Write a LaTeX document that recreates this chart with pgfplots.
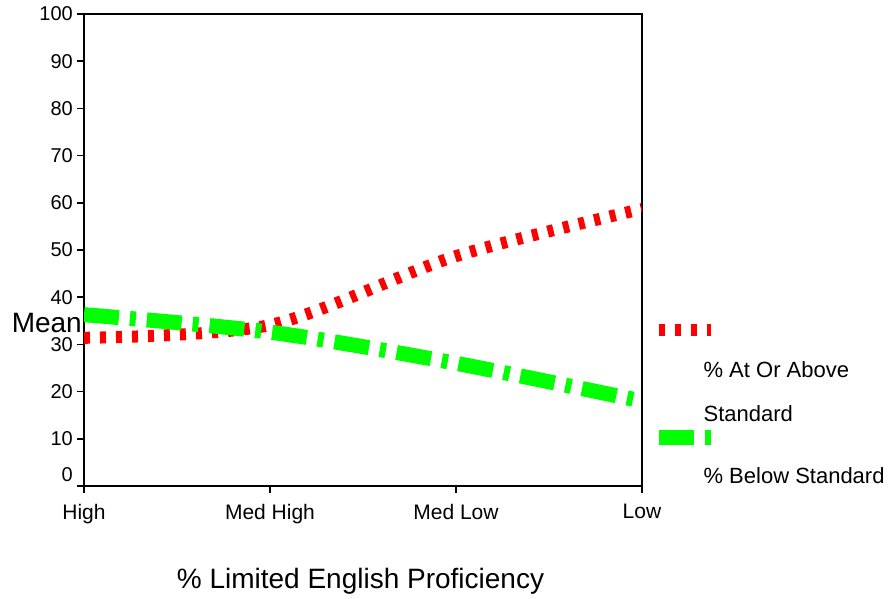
\documentclass[border=0pt]{standalone}
\usepackage{pgfplots}
\pgfplotsset{compat=1.18}
\usepackage{fontspec}
\setmainfont{Liberation Sans}
\definecolor{pred}{RGB}{255,0,0}
\definecolor{pgreen}{RGB}{0,255,0}
\pgfplotsset{
  redleg/.style={legend image code/.code={\draw[##1, overlay] (-45pt,47pt) -- (7pt,47pt);}},
  greenleg/.style={legend image code/.code={\draw[##1, overlay] (-45pt,46pt) -- (7pt,46pt);}},
}
\begin{document}
\begin{tikzpicture}
\useasboundingbox (0,0) rectangle (888pt,-599pt);
\begin{axis}[
  scale only axis, width=558pt, height=472pt,
  at={(84pt,-486pt)}, anchor=south west,
  xmin=0, xmax=3, ymin=0, ymax=100,
  xtick={0,1,2,3}, xticklabels={High,Med High,Med Low,Low},
  ytick={10,20,...,100},
  extra y ticks={0}, extra y tick style={tick label style={yshift=11pt}},
  tick pos=left, tick align=outside, major tick length=7pt,
  axis line style={line width=1.8pt},
  tick style={line width=1.5pt, black},
  /pgf/number format/assume math mode=true,
  yticklabel style={font=\fontsize{20}{24}\selectfont, xshift=-3pt, inner sep=1pt},
  xticklabel style={font=\fontsize{21}{25}\selectfont, yshift=-8pt},
  xlabel={\% Limited English Proficiency},
  ylabel={Mean},
  every axis x label/.style={at={(rel axis cs:0.4955,0)}, anchor=base, yshift=-102pt, font=\fontsize{28}{33}\selectfont},
  every axis y label/.style={at={(rel axis cs:0,0.346)}, anchor=east, inner sep=0pt, xshift=-2pt, font=\fontsize{28}{33}\selectfont},
  legend style={at={(rel axis cs:1.110,0.2649)}, anchor=north west, draw=none, fill=none, inner sep=0pt, row sep=0pt, column sep=0pt, font=\fontsize{22}{26}\selectfont, nodes={inner sep=0pt, anchor=base west}},
  legend cell align=left,
]
\addplot[draw=pred, line width=12pt, dash pattern=on 6pt off 10pt, smooth, redleg]
  coordinates {(0,31.4) (1,34.1) (2,48.7) (3,58.7)};
\addlegendentry{\rule[-5pt]{0pt}{16pt}\% At Or Above}
\addlegendimage{empty legend}
\addlegendentry{\rule[-5pt]{0pt}{48pt}Standard}
\addplot[draw=pgreen, line width=15pt, dash pattern=on 35pt off 11pt on 6pt off 11pt, smooth, greenleg]
  coordinates {(0,36.3) (1,32.6) (2,26.0) (3,18.0)};
\addlegendentry{\rule[-5pt]{0pt}{65pt}\% Below Standard}
\end{axis}
\end{tikzpicture}
\end{document}
